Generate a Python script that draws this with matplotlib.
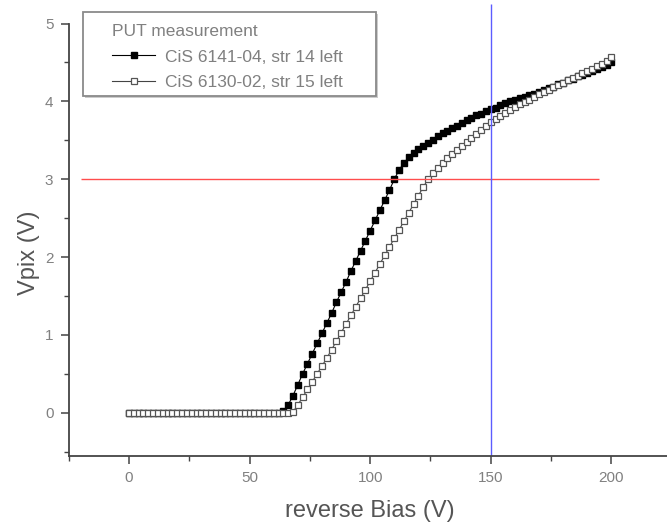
#!/usr/bin/env python

import matplotlib
matplotlib.use('Agg')
import matplotlib.pyplot as plt
from matplotlib.patches import Rectangle

plt.rcParams['font.family'] = ['Liberation Sans', 'DejaVu Sans']

# reverse bias steps (V)
bias = [0, 2, 4, 6, 8, 10, 12, 14, 16, 18, 20, 22, 24, 26, 28, 30, 32, 34, 36, 38,
        40, 42, 44, 46, 48, 50, 52, 54, 56, 58, 60, 62, 64, 66, 68, 70, 72, 74, 76, 78,
        80, 82, 84, 86, 88, 90, 92, 94, 96, 98, 100, 102, 104, 106, 108, 110, 112, 114, 116, 118,
        120, 122, 124, 126, 128, 130, 132, 134, 136, 138, 140, 142, 144, 146, 148, 150, 152, 154, 156, 158,
        160, 162, 164, 166, 168, 170, 172, 174, 176, 178, 180, 182, 184, 186, 188, 190, 192, 194, 196, 198,
        200]

# CiS 6141-04, str 14 left
vpix_6141 = [0, 0, 0, 0, 0, 0, 0, 0, 0, 0, 0, 0, 0, 0, 0, 0, 0, 0, 0, 0,
             0, 0, 0, 0, 0, 0, 0, 0, 0, 0, 0, 0, 0.02, 0.1, 0.22, 0.36, 0.5, 0.63, 0.76, 0.89,
             1.02, 1.15, 1.28, 1.42, 1.55, 1.68, 1.82, 1.95, 2.08, 2.21, 2.34, 2.47, 2.6, 2.73, 2.86, 3.0, 3.12, 3.21, 3.28, 3.34,
             3.39, 3.43, 3.47, 3.51, 3.55, 3.59, 3.62, 3.66, 3.69, 3.72, 3.76, 3.79, 3.82, 3.84, 3.87, 3.9, 3.92, 3.95, 3.98, 4.0,
             4.02, 4.04, 4.06, 4.08, 4.1, 4.12, 4.14, 4.17, 4.19, 4.22, 4.24, 4.27, 4.29, 4.32, 4.34, 4.37, 4.39, 4.42, 4.44, 4.47,
             4.5]

# CiS 6130-02, str 15 left
vpix_6130 = [0, 0, 0, 0, 0, 0, 0, 0, 0, 0, 0, 0, 0, 0, 0, 0, 0, 0, 0, 0,
             0, 0, 0, 0, 0, 0, 0, 0, 0, 0, 0, 0, 0, 0, 0.01, 0.1, 0.2, 0.3, 0.4, 0.5,
             0.6, 0.7, 0.81, 0.92, 1.03, 1.14, 1.25, 1.36, 1.47, 1.58, 1.69, 1.8, 1.91, 2.02, 2.13, 2.24, 2.35, 2.46, 2.57, 2.68,
             2.79, 2.9, 3.0, 3.08, 3.15, 3.21, 3.27, 3.33, 3.38, 3.43, 3.48, 3.53, 3.58, 3.63, 3.68, 3.73, 3.77, 3.81, 3.85, 3.89,
             3.93, 3.96, 3.99, 4.02, 4.06, 4.09, 4.12, 4.15, 4.18, 4.21, 4.24, 4.27, 4.3, 4.33, 4.36, 4.39, 4.42, 4.45, 4.48, 4.52,
             4.57]

fig = plt.figure(figsize=(6.67, 5.23), dpi=100)
ax = fig.add_axes([0.103, 0.129, 0.904, 0.826])

ax.plot(bias, vpix_6141, '-s', color='black', lw=0.8, ms=4.8,
        mfc='black', mec='black', label='CiS 6141-04, str 14 left')
ax.plot(bias, vpix_6130, '-s', color='#444444', lw=0.8, ms=5.0,
        mfc='white', mec='#555555', mew=0.9, label='CiS 6130-02, str 15 left')

ax.hlines(3, -20, 195, color='#ff4d4d', lw=1.0)
ax.vlines(150, -0.55, 5.25, color='#5c5cff', lw=1.0, clip_on=False)

ax.set_xlim(-25, 225)
ax.set_ylim(-0.55, 5)
ax.set_xticks([0, 50, 100, 150, 200])
ax.set_xticks([-25, 25, 75, 125, 175], minor=True)
ax.set_yticks([0, 1, 2, 3, 4, 5])
ax.set_yticks([-0.5, 0.5, 1.5, 2.5, 3.5, 4.5], minor=True)

for s in ['top', 'right']:
  ax.spines[s].set_visible(False)
for s in ['left', 'bottom']:
  ax.spines[s].set_color('#444444')
  ax.spines[s].set_linewidth(1.3)

ax.tick_params(which='major', length=6, width=1.1, color='#444444',
               labelsize=11, labelcolor='#808080', pad=5)
ax.tick_params(which='minor', length=3.5, width=1.0, color='#444444')

ax.set_xlabel('reverse Bias (V)', fontsize=17, color='#555555', va='top')
ax.set_ylabel('Vpix (V)', fontsize=17, color='#555555')
ax.xaxis.set_label_coords(0.5, -0.104)
ax.yaxis.set_label_coords(-0.048, 0.47)

leg = fig.legend(handles=ax.get_lines(), title='PUT measurement', loc='upper left',
                 bbox_to_anchor=(112/667, 1 - 24/523), borderaxespad=0, borderpad=0,
                 fontsize=12.5, title_fontsize=12.5, alignment='left', frameon=False,
                 handlelength=2.5, handletextpad=0.55, labelspacing=0.6)
for t in leg.get_texts():
  t.set_color('#808080')
leg.get_title().set_color('#808080')

# legend box with light shadow
fig.patches.append(Rectangle((85/667, 1 - 98/523), 293/667, 84/523, transform=fig.transFigure,
                             facecolor='#cccccc', edgecolor='none', zorder=1))
fig.patches.append(Rectangle((83/667, 1 - 96/523), 293/667, 84/523, transform=fig.transFigure,
                             facecolor='white', edgecolor='#8a8a8a', lw=1.3, zorder=2))

plt.savefig('out.png', dpi=100)
